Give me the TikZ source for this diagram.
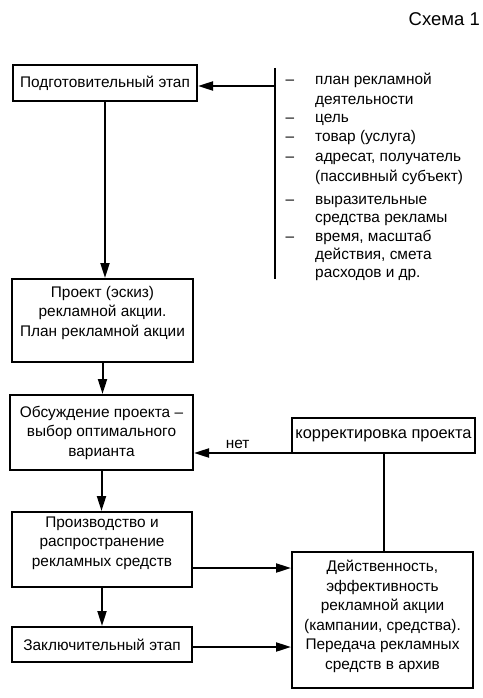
\documentclass[tikz,border=0pt]{standalone}
\usepackage{fontspec}
\setmainfont{Liberation Sans}
\usetikzlibrary{arrows.meta}
\newcommand\fsz{\fontsize{15.4}{19.5}\selectfont}
\tikzset{
  box/.style={draw, line width=2pt, rectangle, inner sep=2pt, align=center, font=\fsz},
  txt/.style={inner sep=0pt, align=center, font=\fsz},
  arr/.style={line width=2pt, -{Triangle[length=15pt,width=9pt]}},
  ln/.style={line width=2pt},
  lst/.style={anchor=base west, inner sep=0pt, font=\fsz},
  dsh/.style={anchor=base, inner sep=0pt, font=\fsz},
}
\begin{document}
\begin{tikzpicture}[x=1pt,y=1pt]
\useasboundingbox (0,0) rectangle (482,-698);
\node[anchor=base east, inner sep=0pt, font=\fontsize{18.5}{22}\selectfont] (title) at (480,-26) {Схема 1};

\node[box, minimum width=184pt, minimum height=36pt] (b1) at (105,-83) {Подготовительный этап};
\node[box, minimum width=181pt, minimum height=83pt] (b2) at (102.5,-320.5) {};
\node[txt] (b2t) at (102.5,-313) {Проект (эскиз)\\рекламной акции.\\План рекламной акции};
\node[box, minimum width=183pt, minimum height=75pt] (b3) at (101.5,-432.5) {Обсуждение проекта –\\выбор оптимального\\варианта};
\node[box, minimum width=180pt, minimum height=75pt] (b4) at (102,-549.5) {};
\node[txt] (b4t) at (102,-543) {Производство и\\распространение\\рекламных средств};
\node[box, minimum width=180pt, minimum height=35pt] (b5) at (102,-644.5) {Заключительный этап};
\node[box, minimum width=183pt, minimum height=35pt, font=\fontsize{16.4}{19.5}\selectfont] (korr) at (383.5,-435.5) {корректировка проекта};
\node[box, minimum width=181pt, minimum height=136pt] (eff) at (382.5,-620) {};
\node[txt] (efft) at (382.5,-616.5) {Действенность,\\эффективность\\рекламной акции\\(кампании, средства).\\Передача рекламных\\средств в архив};

% list of inputs
\coordinate (bartop) at (275,-68);
\coordinate (barbot) at (275,-279);
\coordinate (barmid) at (275,-86);
\draw[ln] (bartop) -- (barbot);
\draw[arr] (barmid) -- (barmid -| b1.east);

\node[dsh] (d1) at (290,-84.5) {–};
\node[dsh] (d2) at (290,-122.5) {–};
\node[dsh] (d3) at (290,-141.5) {–};
\node[dsh] (d4) at (290,-161.5) {–};
\node[dsh] (d5) at (290,-204.5) {–};
\node[dsh] (d6) at (290,-241.5) {–};
\node[lst] (l1) at (315,-84.5) {план рекламной};
\node[lst] (l2) at (315,-104.5) {деятельности};
\node[lst] (l3) at (315,-122.5) {цель};
\node[lst] (l4) at (315,-141.5) {товар (услуга)};
\node[lst] (l5) at (315,-161.5) {адресат, получатель};
\node[lst] (l6) at (315,-181.5) {(пассивный субъект)};
\node[lst] (l7) at (315,-204.5) {выразительные};
\node[lst] (l8) at (315,-222.5) {средства рекламы};
\node[lst] (l9) at (315,-241.5) {время, масштаб};
\node[lst] (l10) at (315,-259.5) {действия, смета};
\node[lst] (l11) at (315,-277.5) {расходов и др.};

% main flow
\draw[arr] (b1.south) -- (b1.south |- b2.north);
\draw[arr] (b2.south) -- (b2.south |- b3.north);
\draw[arr] (b3.south) -- (b3.south |- b4.north);
\draw[arr] (b4.south) -- (b4.south |- b5.north);

% feedback
\coordinate (k1) at ([yshift=1pt]korr.south west);
\draw[arr] (k1) -- node[above, font=\fsz, inner sep=3pt, pos=0.55] (net) {нет} (k1 -| b3.east);
\draw[ln] (korr.south) -- (korr.south |- eff.north);

% to effectiveness
\coordinate (p4) at (192,-568);
\coordinate (p5) at (192,-647);
\draw[arr] (p4) -- (p4 -| eff.west);
\draw[arr] (p5) -- (p5 -| eff.west);
\end{tikzpicture}
\end{document}
